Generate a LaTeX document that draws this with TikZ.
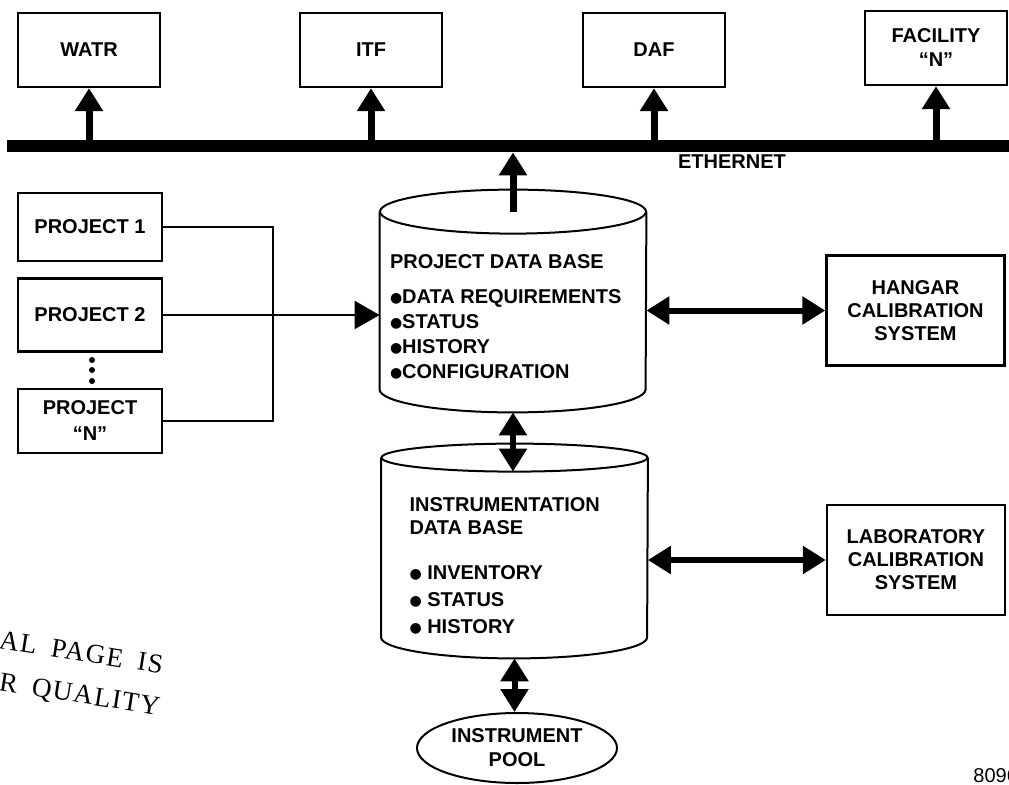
\documentclass[tikz,border=0pt]{standalone}
\usepackage{fontspec}
\setmainfont{Liberation Sans}
\newfontfamily\stampfont[LetterSpace=5,WordSpace=1.8]{Liberation Serif}
\newfontfamily\dotfont{DejaVu Sans}
\usetikzlibrary{shapes,arrows.meta}
\newcommand{\dbdot}{\raisebox{0.8pt}{\dotfont\fontsize{7}{7}\selectfont ●}}

\begin{document}
\begin{tikzpicture}[x=0.5pt,y=-0.5pt]
\tikzstyle{every node}=[font=\bfseries\fontsize{10}{12}\selectfont]
\tikzstyle{site}=[draw,line width=1.2pt,minimum width=71pt,minimum height=37pt,align=center,inner sep=0pt]
\tikzstyle{proj}=[draw,line width=1.2pt,minimum width=72pt,align=center,inner sep=0pt]
\tikzstyle{calib}=[draw,line width=1.2pt,minimum width=89pt,minimum height=55pt,align=center,inner sep=0pt,font=\bfseries\fontsize{10}{11.5}\selectfont]
\tikzstyle{dbbody}=[minimum width=133pt,inner sep=0pt]
\tikzstyle{dbtext}=[anchor=north west,align=left,inner sep=0pt]
\tikzstyle{dbline}=[line width=1pt]
\tikzstyle{bigarrow}=[line width=3.5pt,-{Triangle[length=11.5pt,width=13.5pt]}]
\tikzstyle{twoway}=[line width=3pt,{Triangle[length=11.5pt,width=13.5pt]}-{Triangle[length=11.5pt,width=13.5pt]}]
\tikzstyle{feed}=[line width=1.1pt]
\tikzstyle{stamp}=[font=\stampfont\fontsize{13.6}{16}\selectfont,anchor=base west,rotate=-9,inner sep=0pt]
\useasboundingbox (0,0) rectangle (1009,784);

\node[fill=black,minimum width=501pt,minimum height=6pt,inner sep=0pt] (ether) at (508,146) {};
\node (ethlabel) at (732,162) {ETHERNET};

\node[site] (watr) at (89,50) {WATR};
\node[site] (itf) at (371,50) {ITF};
\node[site] (daf) at (654,50) {DAF};
\node[site] (facn) at (936,48) {FACILITY\\“N”};
\foreach \s in {watr,itf,daf,facn}
  \draw[bigarrow] (\s |- ether.center) -- (\s.south);

\node[proj,minimum height=34pt] (proj1) at (90,227) {PROJECT 1};
\node[proj,minimum height=36.5pt] (proj2) at (90,315) {PROJECT 2};
\node[proj,minimum height=32pt,font=\bfseries\fontsize{10}{13}\selectfont] (projn) at (90,421) {PROJECT\\“N”};
\foreach \y in {360,370,381}
  \fill (92,\y) circle (1.5pt);

\node[dbbody,minimum height=88.5pt] (pdb) at (513,300.5) {};
\draw[dbline] (pdb.north) ellipse [x radius=66.5pt,y radius=11pt];
\draw[dbline] (pdb.north west) -- (pdb.south west) arc [start angle=180,end angle=360,x radius=66.5pt,y radius=11.5pt] -- (pdb.north east);
\node[dbtext,font=\bfseries\fontsize{10}{12.5}\selectfont] (pdbtext) at ([xshift=5pt,yshift=-21.5pt]pdb.north west) {PROJECT DATA BASE\\[5pt]\dbdot DATA REQUIREMENTS\\\dbdot STATUS\\\dbdot HISTORY\\\dbdot CONFIGURATION};

\node[dbbody,minimum height=89.5pt] (idb) at (514.5,547.5) {};
\draw[dbline] (idb.north) ellipse [x radius=66.5pt,y radius=7pt];
\draw[dbline] (idb.north west) -- (idb.south west) arc [start angle=180,end angle=360,x radius=66.5pt,y radius=10.5pt] -- (idb.north east);
\node[dbtext,font=\bfseries\fontsize{10}{11.5}\selectfont] (idbtext) at ([xshift=14pt,yshift=-20pt]idb.north west) {INSTRUMENTATION\\DATA BASE\\[11pt]\dbdot\ INVENTORY\\[2pt]\dbdot\ STATUS\\[2pt]\dbdot\ HISTORY};

\node[calib] (hangar) at (915.5,310.5) {HANGAR\\CALIBRATION\\SYSTEM};
\node[calib] (lab) at (916,560) {LABORATORY\\CALIBRATION\\SYSTEM};
\node[ellipse,draw,line width=1pt,minimum width=100pt,minimum height=35pt,inner sep=0pt,align=center] (pool) at (517,748) {INSTRUMENT\\POOL};

\coordinate (fork) at (273,315);
\coordinate (pdbfoot) at ([yshift=-11.5pt]pdb.south);
\coordinate (idbtop) at ([yshift=-7pt]idb.north);
\coordinate (idbfoot) at ([yshift=-10.5pt]idb.south);

\draw[bigarrow] (pdb.north) -- (pdb.north |- ether.south);
\draw[feed] (proj1.east) -| (fork) |- (projn.east);
\draw[feed,-{Triangle[length=12.5pt,width=14pt]}] (proj2.east) -- (proj2.east -| pdb.west);
\draw[twoway] (hangar.west) -- (hangar.west -| pdb.east);
\draw[twoway] (lab.west) -- (lab.west -| idb.east);
\draw[twoway] (pdbfoot) -- (pdbfoot |- idbtop);
\draw[twoway] (idbfoot) -- (idbfoot |- pool.north);

\node[stamp] (stampa) at (-2,648) {AL PAGE IS};
\node[stamp] (stampb) at (-2,690) {R QUALITY};
\node[font=\fontsize{10}{12}\selectfont,anchor=base west,inner sep=0pt] (figno) at (973,782) {8096};
\end{tikzpicture}
\end{document}
